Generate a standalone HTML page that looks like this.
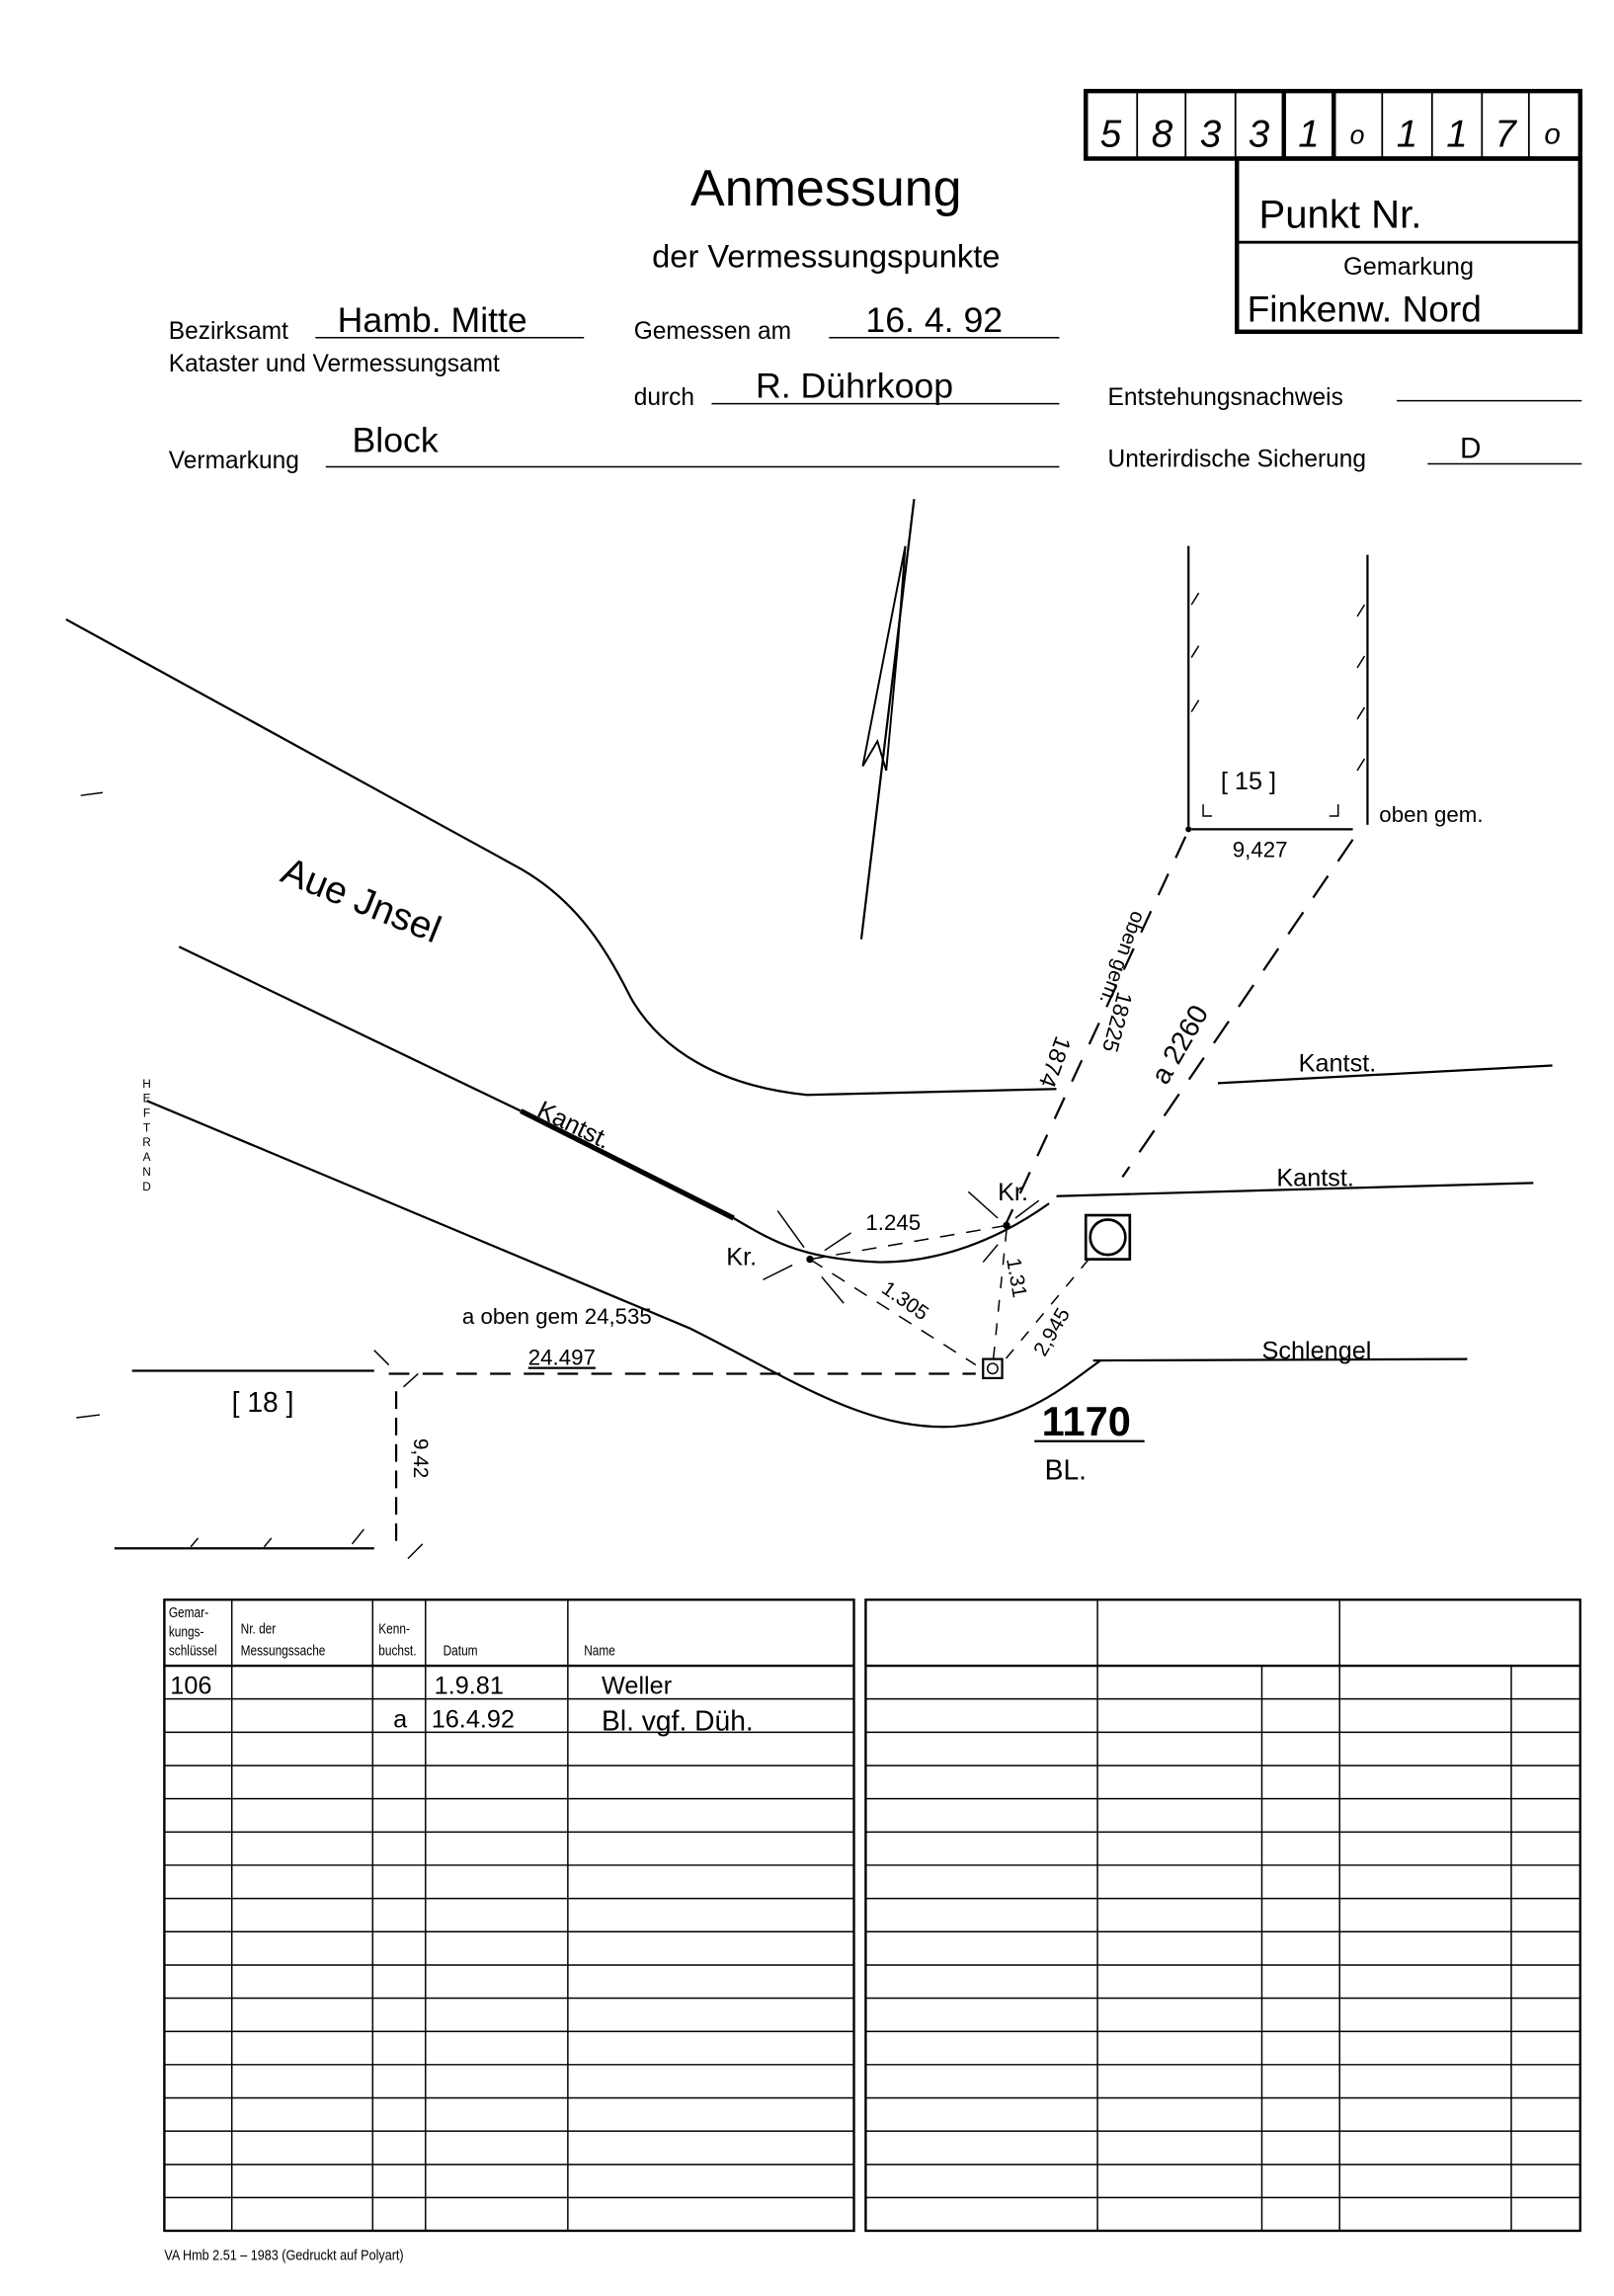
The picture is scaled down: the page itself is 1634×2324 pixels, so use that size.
<!DOCTYPE html>
<html><head><meta charset="utf-8"><style>
html,body{margin:0;padding:0;background:#fff}
svg{display:block}
.p{font-family:"Liberation Sans",sans-serif;fill:#000}
.h{font-family:"Liberation Sans",sans-serif;font-style:italic;fill:#000}
</style></head><body>
<svg width="1634" height="2324" viewBox="0 0 1100 1564.4" xmlns="http://www.w3.org/2000/svg">
<rect width="1100" height="1564.4" fill="#fff"/>
<g stroke="#000" fill="none">
<rect x="740" y="62" width="337" height="46" stroke-width="3"/>
<g stroke-width="1.2">
<line x1="775" y1="62" x2="775" y2="108"/><line x1="808" y1="62" x2="808" y2="108"/><line x1="842" y1="62" x2="842" y2="108"/>
<line x1="942" y1="62" x2="942" y2="108"/><line x1="976" y1="62" x2="976" y2="108"/><line x1="1010" y1="62" x2="1010" y2="108"/><line x1="1042" y1="62" x2="1042" y2="108"/>
</g>
<line x1="875" y1="62" x2="875" y2="108" stroke-width="3"/><line x1="909" y1="62" x2="909" y2="108" stroke-width="3"/>
<rect x="843" y="108" width="234" height="118" stroke-width="3"/>
<line x1="843" y1="165" x2="1077" y2="165" stroke-width="2"/>
</g>
<g class="h" font-size="26" text-anchor="middle">
<text x="757" y="100">5</text><text x="792" y="100">8</text><text x="825" y="100">3</text><text x="858" y="100">3</text><text x="892" y="100">1</text><text x="925" y="98" font-size="18">o</text><text x="959" y="100">1</text><text x="993" y="100">1</text><text x="1026" y="100">7</text><text x="1058" y="98" font-size="20">o</text>
</g>
<text class="p" x="858" y="155" font-size="27">Punkt Nr.</text>
<text class="p" x="960" y="187" font-size="17" text-anchor="middle">Gemarkung</text>
<text class="h" x="850" y="219" font-size="25" style="font-style:normal">Finkenw.  Nord</text>
<text class="p" x="563" y="140" font-size="35" text-anchor="middle">Anmessung</text>
<text class="p" x="563" y="182" font-size="22" text-anchor="middle">der Vermessungspunkte</text>
<g class="p" font-size="16.5">
<text x="115" y="231">Bezirksamt</text>
<text x="115" y="253">Kataster und Vermessungsamt</text>
<text x="432" y="231">Gemessen am</text>
<text x="432" y="276">durch</text>
<text x="115" y="319">Vermarkung</text>
<text x="755" y="276">Entstehungsnachweis</text>
<text x="755" y="318">Unterirdische Sicherung</text>
</g>
<g stroke="#000" stroke-width="1">
<line x1="215" y1="230" x2="398" y2="230"/><line x1="565" y1="230" x2="722" y2="230"/>
<line x1="485" y1="275" x2="722" y2="275"/><line x1="222" y1="318" x2="722" y2="318"/>
<line x1="952" y1="273" x2="1078" y2="273"/><line x1="973" y1="316" x2="1078" y2="316"/>
</g>
<g class="h" font-size="24" style="font-style:normal">
<text x="230" y="226">Hamb. Mitte</text>
<text x="590" y="226">16. 4. 92</text>
<text x="515" y="271">R. Dührkoop</text>
<text x="240" y="308">Block</text>
<text x="995" y="312" font-size="20">D</text>
</g>
<g stroke="#000" fill="none" stroke-width="1.5">
<path d="M45,422 L355,592 C395,615 415,650 430,680 C450,715 490,740 550,746 L720,742"/>
<line x1="830" y1="738" x2="1058" y2="726"/>
<path d="M122,645 L355,757"/>
<path d="M355,757 L500,830" stroke-width="3.5"/>
<path d="M500,830 C530,848 550,858 600,860 C640,860 680,845 715,820"/>
<line x1="720" y1="815" x2="1045" y2="806"/>
<path d="M100,750 L470,905 C540,940 590,975 650,972 C700,968 725,945 750,927"/>
<line x1="745" y1="927" x2="1000" y2="926"/>
<line x1="90" y1="934" x2="255" y2="934"/>
<line x1="265" y1="936" x2="665" y2="936" stroke-dasharray="14,9"/>
<line x1="78" y1="1055" x2="255" y2="1055"/>
<line x1="270" y1="948" x2="270" y2="1050" stroke-dasharray="12,6"/>
<line x1="623" y1="340" x2="587" y2="640"/>
<path d="M617,372 L588,522 L598,505 L604,525 L612,438 L617,372" stroke-width="1.3"/>
<line x1="810" y1="372" x2="810" y2="563"/>
<line x1="932" y1="378" x2="932" y2="562"/>
<line x1="812" y1="565" x2="922" y2="565"/>
<line x1="808" y1="570" x2="686" y2="833" stroke-dasharray="16,12"/>
<line x1="922" y1="572" x2="765" y2="802" stroke-dasharray="18,12"/>
<line x1="552" y1="858" x2="686" y2="835" stroke-dasharray="10,8" stroke-width="1"/>
<line x1="552" y1="858" x2="665" y2="930" stroke-dasharray="10,8" stroke-width="1"/>
<line x1="686" y1="838" x2="677" y2="926" stroke-dasharray="8,8" stroke-width="1"/>
<line x1="742" y1="858" x2="682" y2="930" stroke-dasharray="8,8" stroke-width="1"/>
<rect x="740" y="828" width="30" height="30" stroke-width="1.8"/>
<circle cx="755" cy="843" r="12" stroke-width="1.8"/>
<rect x="670" y="926" width="13" height="13" stroke-width="1.5"/>
<circle cx="676.5" cy="932.5" r="3.5" stroke-width="1"/>
<line x1="705" y1="982" x2="780" y2="982"/>
<g stroke-width="1">
<line x1="812" y1="412" x2="817" y2="404"/><line x1="812" y1="448" x2="817" y2="440"/><line x1="812" y1="485" x2="817" y2="477"/>
<line x1="925" y1="420" x2="930" y2="412"/><line x1="925" y1="455" x2="930" y2="447"/><line x1="925" y1="490" x2="930" y2="482"/><line x1="925" y1="525" x2="930" y2="517"/>
<path d="M820,548 v8 h6"/><path d="M912,548 v8 h-6"/>
<line x1="530" y1="825" x2="548" y2="850"/><line x1="520" y1="872" x2="540" y2="862"/><line x1="560" y1="870" x2="575" y2="888"/><line x1="562" y1="852" x2="580" y2="840"/>
<line x1="660" y1="812" x2="680" y2="830"/><line x1="670" y1="860" x2="680" y2="848"/><line x1="692" y1="830" x2="708" y2="818"/>
<line x1="255" y1="920" x2="265" y2="930"/><line x1="275" y1="945" x2="285" y2="936"/>
<line x1="240" y1="1052" x2="248" y2="1042"/><line x1="278" y1="1062" x2="288" y2="1052"/><line x1="130" y1="1054" x2="135" y2="1048"/><line x1="180" y1="1054" x2="185" y2="1048"/>
<line x1="55" y1="542" x2="70" y2="540"/><line x1="52" y1="966" x2="68" y2="964"/>
</g>
</g>
<circle cx="810" cy="565" r="2" fill="#000"/><circle cx="686" cy="835" r="2.5" fill="#000"/><circle cx="552" cy="858" r="2.5" fill="#000"/>
<g class="h" style="font-style:normal" font-size="17">
<text x="190" y="600" font-size="26" transform="rotate(22 190 600)">Aue Jnsel</text>
<text x="365" y="760" transform="rotate(26 365 760)">Kantst.</text>
<text x="495" y="862">Kr.</text>
<text x="680" y="818">Kr.</text>
<text x="885" y="730">Kantst.</text>
<text x="870" y="808">Kantst.</text>
<text x="860" y="926">Schlengel</text>
<text x="832" y="538">[ 15 ]</text>
<text x="840" y="584" font-size="15">9,427</text>
<text x="940" y="560" font-size="15">oben gem.</text>
<text x="315" y="902" font-size="15">a oben gem 24,535</text>
<text x="360" y="930" font-size="15" text-decoration="underline">24.497</text>
<text x="158" y="962" font-size="19">[ 18 ]</text>
<text x="282" y="980" font-size="14" transform="rotate(90 282 980)">9,42</text>
<text x="590" y="838" font-size="15">1.245</text>
<text x="600" y="880" font-size="14" transform="rotate(35 600 880)">1.305</text>
<text x="686" y="858" font-size="14" transform="rotate(80 686 858)">1.31</text>
<text x="712" y="925" font-size="14" transform="rotate(-60 712 925)">2,945</text>
<text x="795" y="740" font-size="19" transform="rotate(-60 795 740)">a 2260</text>
<text x="772" y="620" font-size="14" transform="rotate(110 772 620)">oben gem.</text>
<text x="720" y="705" font-size="16" transform="rotate(110 720 705)">1874</text>
<text x="762" y="675" font-size="15" transform="rotate(105 762 675)">18225</text>
<text x="710" y="978" font-size="28" font-weight="bold">1170</text>
<text x="712" y="1008" font-size="19">BL.</text>
</g>
<g class="p" font-size="8" text-anchor="middle">
<text x="100" y="741">H</text><text x="100" y="751">E</text><text x="100" y="761">F</text><text x="100" y="771">T</text><text x="100" y="781">R</text><text x="100" y="791">A</text><text x="100" y="801">N</text><text x="100" y="811">D</text>
</g>
<g stroke="#000" fill="none" stroke-width="1">
<rect x="112" y="1090" width="470" height="430" stroke-width="1.6"/>
<rect x="590" y="1090" width="487" height="430" stroke-width="1.6"/>
<line x1="112" y1="1135" x2="582" y2="1135" stroke-width="1.6"/>
<line x1="590" y1="1135" x2="1077" y2="1135" stroke-width="1.6"/>
<line x1="158" y1="1090" x2="158" y2="1520"/><line x1="254" y1="1090" x2="254" y2="1520"/><line x1="290" y1="1090" x2="290" y2="1520"/><line x1="387" y1="1090" x2="387" y2="1520"/>
<line x1="748" y1="1090" x2="748" y2="1520"/><line x1="913" y1="1090" x2="913" y2="1520"/>
<line x1="860" y1="1135" x2="860" y2="1520"/><line x1="1030" y1="1135" x2="1030" y2="1520"/>
<path d="M112,1157.6H582M112,1180.3H582M112,1203H582M112,1225.6H582M112,1248.3H582M112,1270.9H582M112,1293.6H582M112,1316.2H582M112,1338.9H582M112,1361.5H582M112,1384.2H582M112,1406.8H582M112,1429.5H582M112,1452.1H582M112,1474.8H582M112,1497.4H582"/>
<path d="M590,1157.6H1077M590,1180.3H1077M590,1203H1077M590,1225.6H1077M590,1248.3H1077M590,1270.9H1077M590,1293.6H1077M590,1316.2H1077M590,1338.9H1077M590,1361.5H1077M590,1384.2H1077M590,1406.8H1077M590,1429.5H1077M590,1452.1H1077M590,1474.8H1077M590,1497.4H1077"/>
</g>
<g class="p" font-size="10">
<g transform="translate(115 0) scale(0.8 1)"><text x="0" y="1102">Gemar-</text><text x="0" y="1115">kungs-</text><text x="0" y="1128">schlüssel</text></g>
<g transform="translate(164 0) scale(0.8 1)"><text x="0" y="1113">Nr. der</text><text x="0" y="1128">Messungssache</text></g>
<g transform="translate(258 0) scale(0.8 1)"><text x="0" y="1113">Kenn-</text><text x="0" y="1128">buchst.</text></g>
<g transform="translate(302 0) scale(0.8 1)"><text x="0" y="1128">Datum</text></g>
<g transform="translate(398 0) scale(0.8 1)"><text x="0" y="1128">Name</text></g>
</g>
<g class="h" font-size="17" style="font-style:normal">
<text x="116" y="1154">106</text>
<text x="296" y="1154">1.9.81</text>
<text x="410" y="1154">Weller</text>
<text x="268" y="1177">a</text>
<text x="294" y="1177">16.4.92</text>
<text x="410" y="1179" font-size="19">Bl. vgf. Düh.</text>
</g>
<g transform="translate(112 0) scale(0.85 1)"><text class="p" x="0" y="1540" font-size="10">VA Hmb 2.51 – 1983 (Gedruckt auf Polyart)</text></g>
</svg>
</body></html>
